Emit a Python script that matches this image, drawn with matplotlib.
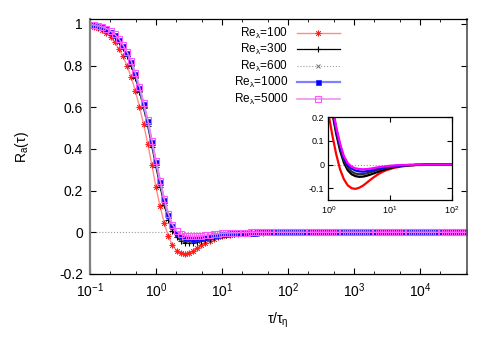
import numpy as np
import matplotlib
matplotlib.use("Agg")
import matplotlib.pyplot as plt
from matplotlib.ticker import LogLocator, NullFormatter, FuncFormatter, FixedLocator

plt.rcParams['font.family'] = ['Liberation Sans', 'DejaVu Sans']
plt.rcParams['mathtext.fontset'] = 'custom'
plt.rcParams['mathtext.rm'] = 'Liberation Sans'
plt.rcParams['mathtext.it'] = 'Liberation Sans:italic'
plt.rcParams['mathtext.bf'] = 'Liberation Sans:bold'
plt.rcParams['axes.unicode_minus'] = False

# ---- data (tau / tau_eta) ----
tau_core = [0.1, 0.1155, 0.1334, 0.154, 0.1778, 0.2054, 0.2371, 0.2738, 0.3162, 0.3652, 0.4217, 0.487,
            0.5623, 0.6494, 0.7499, 0.866,
            1.0, 1.155, 1.334, 1.54, 1.778, 2.054, 2.371, 2.738, 3.162, 3.652, 4.217, 4.87,
            5.623, 6.494, 7.499, 8.66,
            10, 11.55, 13.34, 15.4, 17.78, 20.54, 23.71, 27.38, 31.62, 36.52, 42.17, 48.7,
            56.23, 64.94, 74.99, 86.6]
tau_tail = [100, 115.5, 133.4, 154, 177.8, 205.4, 237.1, 273.8, 316.2, 365.2, 421.7, 487,
            562.3, 649.4, 749.9, 866,
            1000, 1155, 1334, 1540, 1778, 2054, 2371, 2738, 3162, 3652, 4217, 4870,
            5623, 6494, 7499, 8660,
            10000, 11550, 13340, 15400, 17780, 20540, 23710, 27380, 31620, 36520, 42170, 48700, 56230]
R_tail = [0.0, 0.0, 0.0, 0.0, 0.0, 0.0, 0.0, 0.0, 0.0, 0.0, 0.0, 0.0, 0.0, 0.0, 0.0,
          0.0, 0.0, 0.0, 0.0, 0.0, 0.0, 0.0, 0.0, 0.0, 0.0, 0.0, 0.0, 0.0, 0.0, 0.0,
          0.0, 0.0, 0.0, 0.0, 0.0, 0.0, 0.0, 0.0, 0.0, 0.0, 0.0, 0.0, 0.0, 0.0, 0.0]

R_100 = [0.990, 0.985, 0.978, 0.968, 0.956, 0.937, 0.911, 0.880, 0.844, 0.797, 0.744, 0.677,
         0.601, 0.518, 0.424, 0.323,
         0.215, 0.124, 0.044, -0.020, -0.062, -0.088, -0.100, -0.103, -0.098, -0.089, -0.076, -0.063,
         -0.051, -0.040, -0.031, -0.024,
         -0.019, -0.014, -0.011, -0.008, -0.006, -0.004, -0.003, -0.002, -0.002, -0.001, -0.001, 0.0,
         0.0, 0.0, 0.0, 0.0]
R_300 = [0.995, 0.992, 0.987, 0.981, 0.971, 0.957, 0.939, 0.915, 0.882, 0.846, 0.800, 0.741,
         0.674, 0.594, 0.508, 0.411,
         0.312, 0.218, 0.130, 0.060, 0.008, -0.024, -0.041, -0.049, -0.052, -0.051, -0.047, -0.042,
         -0.036, -0.030, -0.024, -0.019,
         -0.015, -0.011, -0.008, -0.006, -0.004, -0.003, -0.002, -0.001, -0.001, 0.0, 0.0, 0.0,
         0.0, 0.0, 0.0, 0.0]
R_600 = [0.995, 0.993, 0.988, 0.982, 0.973, 0.960, 0.943, 0.920, 0.888, 0.853, 0.808, 0.750,
         0.684, 0.605, 0.520, 0.423,
         0.325, 0.232, 0.143, 0.072, 0.019, -0.013, -0.030, -0.038, -0.041, -0.040, -0.037, -0.032,
         -0.027, -0.022, -0.018, -0.014,
         -0.011, -0.008, -0.006, -0.005, -0.003, -0.002, -0.002, -0.001, -0.001, 0.0, 0.0, 0.0,
         0.0, 0.0, 0.0, 0.0]
R_1000 = [0.996, 0.993, 0.989, 0.984, 0.975, 0.962, 0.946, 0.924, 0.893, 0.859, 0.816, 0.758,
          0.693, 0.615, 0.532, 0.435,
          0.337, 0.243, 0.153, 0.082, 0.028, -0.002, -0.017, -0.025, -0.029, -0.030, -0.028, -0.025,
          -0.021, -0.017, -0.014, -0.011,
          -0.008, -0.006, -0.005, -0.004, -0.003, -0.002, -0.002, -0.001, -0.001, 0.0, 0.0, 0.0,
          0.0, 0.0, 0.0, 0.0]
R_5000 = [0.996, 0.994, 0.990, 0.985, 0.977, 0.965, 0.950, 0.928, 0.898, 0.864, 0.821, 0.763,
          0.698, 0.620, 0.537, 0.440,
          0.342, 0.248, 0.159, 0.089, 0.036, 0.006, -0.009, -0.016, -0.019, -0.020, -0.019, -0.017,
          -0.014, -0.011, -0.009, -0.007,
          -0.005, -0.004, -0.003, -0.002, -0.002, -0.001, -0.001, 0.0, 0.0, 0.0, 0.0, 0.0,
          0.0, 0.0, 0.0, 0.0]

labels = [r'Re$_\mathregular{λ}$=100', r'Re$_\mathregular{λ}$=300', r'Re$_\mathregular{λ}$=600',
          r'Re$_\mathregular{λ}$=1000', r'Re$_\mathregular{λ}$=5000']
main_yticks = [-0.2, 0, 0.2, 0.4, 0.6, 0.8, 1]
inset_yticks = [-0.1, 0, 0.1, 0.2]

tau = np.array(tau_core + tau_tail)
series = [np.array(R_100 + R_tail), np.array(R_300 + R_tail), np.array(R_600 + R_tail),
          np.array(R_1000 + R_tail), np.array(R_5000 + R_tail)]

styles = [
    dict(color='#ff8c8c', lw=1.0, ls='-', marker=(8, 2, 0), ms=4.2, mec='#ff2020', mfc='#ff2020', mew=0.55),
    dict(color='#000000', lw=0.9, ls='-', marker='+', ms=5, mec='#000000', mew=0.8),
    dict(color='#a0a0a0', lw=0.8, ls=':', marker='x', ms=3.5, mec='#707070', mew=0.7),
    dict(color='#8080ff', lw=1.6, ls='-', marker='s', ms=3.6, mec='#2020ff', mfc='#0000ff', mew=0.5),
    dict(color='#ee88ee', lw=1.1, ls='-', marker='s', ms=4.6, mec='#ff55ff', mfc='none', mew=0.8),
]
inset_colors = ['#ff0000', '#000000', '#303030', '#0000ff', '#ff00ff']

fig = plt.figure(figsize=(4.91, 3.43), dpi=100)
ax = fig.add_axes([0.1833, 0.2012, 0.7672, 0.7425])

ax.axhline(0, color='#9a9a9a', ls=':', lw=0.8, zorder=0)
handles = []
for R, st, lab in zip(series, styles, labels):
    h, = ax.plot(tau, R, label=lab, **st)
    handles.append(h)

ax.set_xscale('log')
ax.set_xlim(0.1, 5.1e4)
ax.set_ylim(-0.2, 1.0216)
ax.xaxis.set_major_locator(LogLocator(base=10, numticks=20))
ax.xaxis.set_minor_locator(LogLocator(base=10, subs=[2, 5], numticks=20))
ax.xaxis.set_minor_formatter(NullFormatter())
ax.yaxis.set_major_locator(FixedLocator(main_yticks))
ax.yaxis.set_major_formatter(FuncFormatter(lambda v, p: f'{v:g}'))
ax.tick_params(which='both', direction='in', top=True, right=True, labelsize=10)
ax.tick_params(which='major', length=4.5, width=0.8)
ax.tick_params(which='minor', length=2.5, width=0.6)
ax.tick_params(axis='y', pad=5)
ax.tick_params(axis='x', pad=5)
for s in ['top', 'bottom']:
    ax.spines[s].set_linewidth(0.9)
ax.spines['left'].set_color('#808080')
ax.spines['left'].set_linewidth(1.6)
ax.spines['right'].set_color('#505050')
ax.spines['right'].set_linewidth(1.2)

ax.set_xlabel('τ/τ$_\\mathregular{η}$', fontsize=10, labelpad=8)
ax.set_ylabel('R$_\\mathregular{a}$(τ)', fontsize=10, labelpad=20)

leg = ax.legend(handles=handles, loc='upper right', bbox_to_anchor=(0.663, 0.975),
                frameon=False, markerfirst=False, numpoints=1, fontsize=8.5,
                handlelength=3.6, handletextpad=0.8, labelspacing=0.12,
                borderpad=0, borderaxespad=0)

# ---- inset ----
axi = fig.add_axes([0.669, 0.4169, 0.2509, 0.2411])
axi.axhline(0, color='#9a9a9a', ls=':', lw=0.8, zorder=0)
for R, c in zip(series, inset_colors):
    axi.plot(tau, R, color=c, lw=1.6)
axi.set_xscale('log')
axi.set_xlim(1, 100)
axi.set_ylim(-0.15, 0.2)
axi.xaxis.set_major_locator(LogLocator(base=10, numticks=10))
axi.xaxis.set_minor_locator(plt.NullLocator())
axi.yaxis.set_major_locator(FixedLocator(inset_yticks))
axi.yaxis.set_major_formatter(FuncFormatter(lambda v, p: f'{v:g}'))
axi.tick_params(which='both', direction='in', top=True, right=True, labelsize=6.5,
                length=3.5, width=0.8, pad=3)
for s in axi.spines.values():
    s.set_linewidth(0.9)

fig.savefig('out.png', dpi=100)
